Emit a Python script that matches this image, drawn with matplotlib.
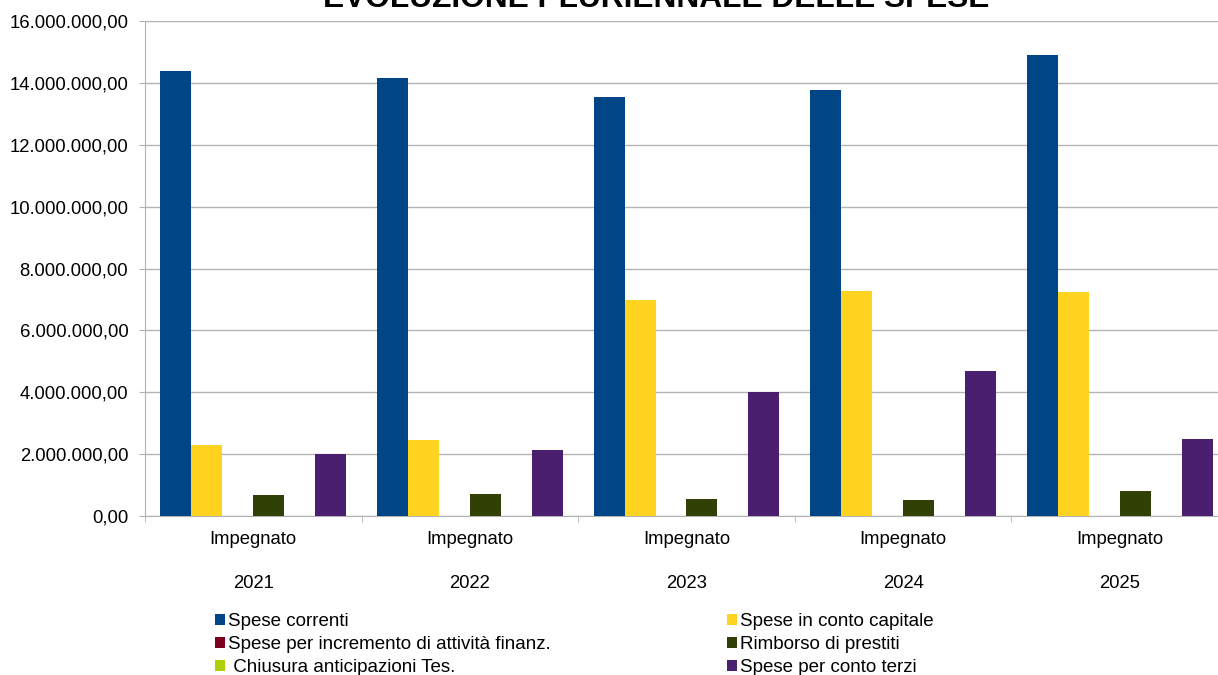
import numpy as np
import matplotlib
matplotlib.use("Agg")
import matplotlib.pyplot as plt
from matplotlib.patches import Patch
from matplotlib.ticker import FuncFormatter, FixedLocator

plt.rcParams['font.family'] = ['Liberation Sans', 'DejaVu Sans']

# data (euro)
years = ["2021", "2022", "2023", "2024", "2025"]
category = "Impegnato"
series_names = ["Spese correnti", "Spese in conto capitale",
                "Spese per incremento di attività finanz.", "Rimborso di prestiti",
                " Chiusura anticipazioni Tes.", "Spese per conto terzi"]
spese_correnti = [14380000, 14160000, 13540000, 13770000, 14900000]
spese_capitale = [2290000, 2460000, 6980000, 7270000, 7240000]
spese_incremento = [0, 0, 0, 0, 0]
rimborso_prestiti = [680000, 710000, 550000, 520000, 810000]
chiusura_anticip = [0, 0, 0, 0, 0]
spese_terzi = [2000000, 2130000, 4010000, 4690000, 2490000]
colors = ["#004586", "#ffd320", "#7e0021", "#314004", "#aecf00", "#4b1f6f"]

values = [spese_correnti, spese_capitale, spese_incremento,
          rimborso_prestiti, chiusura_anticip, spese_terzi]

fig = plt.figure(figsize=(12.18, 6.75), dpi=100)
ax = fig.add_axes([145/1218, 1-516/675, (1228-145)/1218, (516-21)/675])

n = len(values)
w = 0.1431
side = (1 - n*w) / 2
x = np.arange(len(years))
for j, (vals, c) in enumerate(zip(values, colors)):
    ax.bar(x + side + w*(j+0.5), vals, width=w, color=c, linewidth=0, zorder=3)

ax.set_xlim(0, len(years))
ax.set_ylim(0, 16000000)
ax.set_yticks(np.arange(0, 16000001, 2000000))

def fmt(v, pos):
    s = "{:,.2f}".format(v)
    return s.replace(",", "X").replace(".", ",").replace("X", ".")
ax.yaxis.set_major_formatter(FuncFormatter(fmt))

ax.set_xticks(x + 0.5)
ax.set_xticklabels([category]*len(years))
ax.xaxis.set_minor_locator(FixedLocator(np.arange(len(years)+1)))
ax.tick_params(axis='x', which='major', length=0, pad=11, labelsize=13.3)
ax.tick_params(axis='x', which='minor', length=4, color="#b3b3b3", direction='out')
ax.tick_params(axis='y', length=4, color="#b3b3b3", labelsize=13.3, pad=8)

for i, y in enumerate(years):
    ax.text(i + 0.5, -67/495, y, transform=ax.get_xaxis_transform(),
            ha='center', va='center', fontsize=13.3)

ax.grid(axis='y', color="#b3b3b3", linewidth=1, zorder=0)
for s in ['top', 'right']:
    ax.spines[s].set_visible(False)
for s in ['left', 'bottom']:
    ax.spines[s].set_color("#b3b3b3")

fig.text(656/1218, 1 - 7/675, "EVOLUZIONE PLURIENNALE DELLE SPESE",
         ha='center', va='baseline', fontsize=22.8, fontweight='bold')

order = [0, 2, 4, 1, 3, 5]
handles = [Patch(facecolor=colors[k], edgecolor='none') for k in order]
labels = [series_names[k] for k in order]
fig.legend(handles, labels, ncol=2, loc='upper left',
           bbox_to_anchor=(215/1218, 1 - 613/675), frameon=False,
           borderpad=0, borderaxespad=0,
           fontsize=13.5, handlelength=0.53, handleheight=0.53,
           handletextpad=0.16, labelspacing=0.32, columnspacing=9.4)

fig.savefig("out.png", dpi=100)
